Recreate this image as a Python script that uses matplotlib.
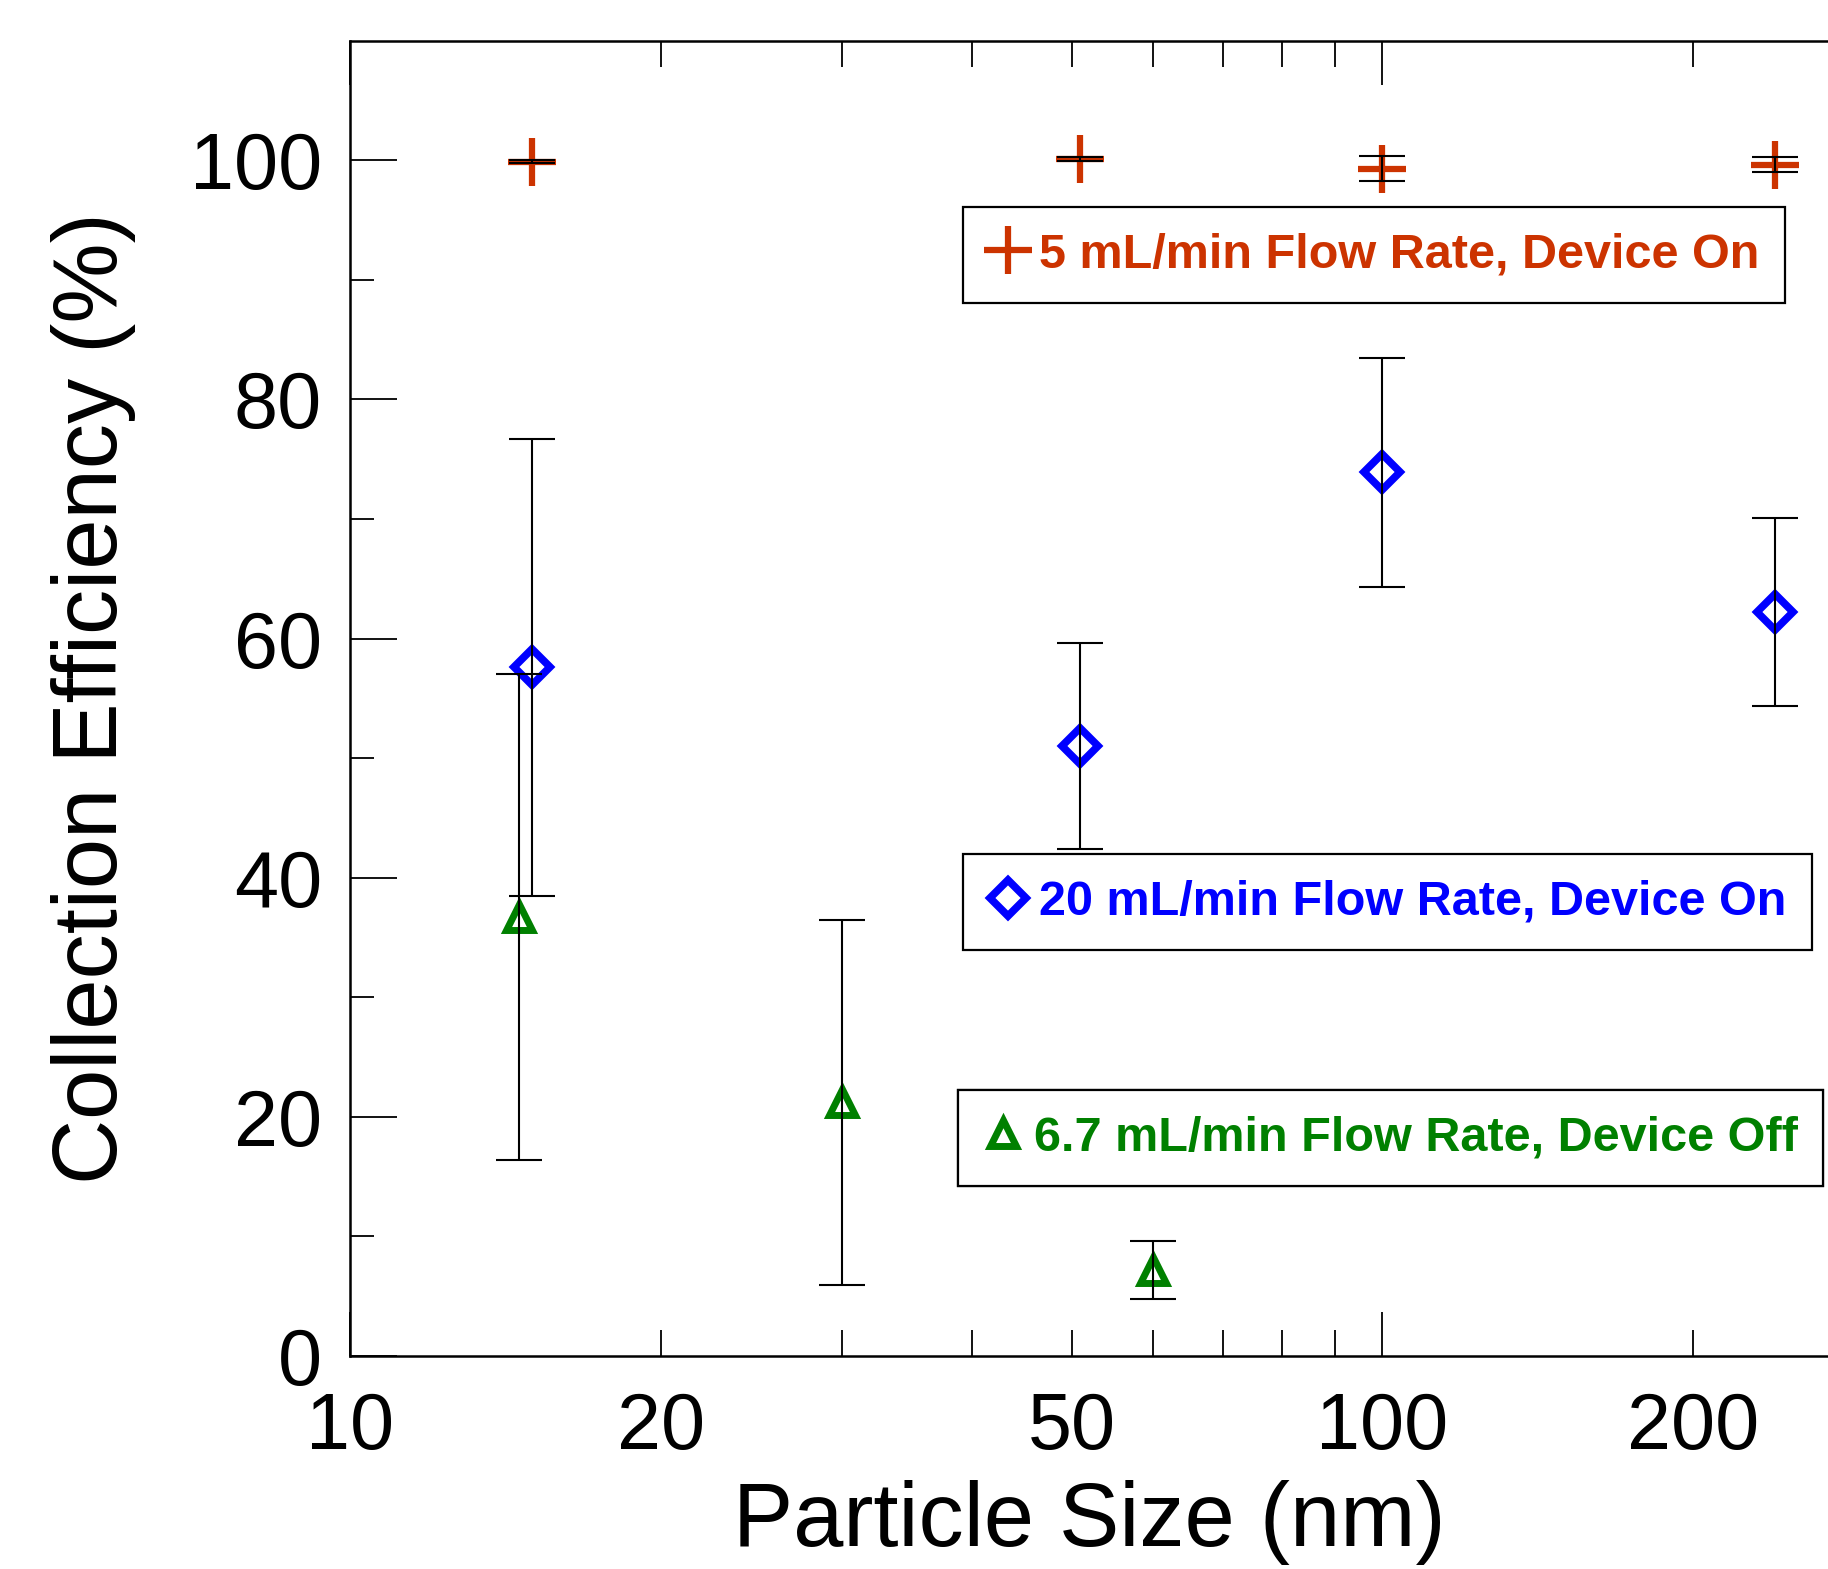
import numpy as np
import matplotlib.pyplot as plt
from matplotlib.lines import Line2D
from matplotlib.ticker import LogLocator, NullFormatter, FixedLocator

plt.rcParams['font.family'] = ['Liberation Sans', 'DejaVu Sans']

# 5 mL/min, device on
size_5 = [15, 51, 100, 240]
eff_5 = [99.9, 100.1, 99.3, 99.65]
err_5 = [0.15, 0.15, 1.05, 0.65]

# 20 mL/min, device on
size_20 = [15, 51, 100, 240]
eff_20 = [57.6, 51.0, 73.9, 62.2]
err_20 = [19.1, 8.6, 9.6, 7.85]

# 6.7 mL/min, device off
size_67 = [14.6, 30, 60]
eff_67 = [36.7, 21.2, 7.2]
err_67 = [20.3, 15.3, 2.4]

labels = ['5 mL/min Flow Rate, Device On',
          '20 mL/min Flow Rate, Device On',
          '6.7 mL/min Flow Rate, Device Off']
colors = ['#CC3300', '#0000FF', '#008000']

fig = plt.figure(figsize=(18.28, 15.69), dpi=100)
ax = fig.add_axes([0.1913, 0.1358, 0.8087, 0.8382])

series = [(size_5, eff_5, err_5, '+', 34, 4.5),
          (size_20, eff_20, err_20, 'D', 18, 5.5),
          (size_67, eff_67, err_67, '^', 19, 5.0)]

handles = []
for (x, y, e, m, ms, mew), c in zip(series, colors):
    ax.plot(x, y, linestyle='none', marker=m, markersize=ms, mew=mew,
            mec=c, mfc='none', zorder=2)
    ax.errorbar(x, y, yerr=e, fmt='none', ecolor='black', elinewidth=1.5,
                capsize=16.5, capthick=1.5, zorder=3)
    handles.append(Line2D([], [], linestyle='none', marker=m, markersize=ms,
                          mew=mew, mec=c, mfc='none'))

ax.set_xscale('log')
ax.set_xlim(10, 270)
ax.set_ylim(0, 110)

ax.xaxis.set_major_locator(FixedLocator([10, 100]))
ax.xaxis.set_minor_locator(LogLocator(base=10, subs=np.arange(2, 10)))
ax.xaxis.set_minor_formatter(NullFormatter())
ax.xaxis.set_major_formatter(NullFormatter())
ax.set_yticks([0, 20, 40, 60, 80, 100])
ax.set_yticks([10, 30, 50, 70, 90], minor=True)

# tick labels at 10, 20, 50, 100, 200 as in the original
for v in [10, 20, 50, 100, 200]:
    ax.text(v, -0.027, str(v), transform=ax.get_xaxis_transform(),
            ha='center', va='top', fontsize=57)

ax.tick_params(axis='both', which='both', direction='in', width=1.3,
               top=True, right=False, labelsize=57)
ax.tick_params(axis='x', which='major', length=32)
ax.tick_params(axis='x', which='minor', length=19)
ax.tick_params(axis='y', which='major', length=34, pad=20)
ax.tick_params(axis='y', which='minor', length=17)

for s in ['left', 'bottom', 'top']:
    ax.spines[s].set_linewidth(1.8)
ax.spines['right'].set_visible(False)

ax.set_xlabel('Particle Size (nm)', fontsize=65, labelpad=86)
ax.set_ylabel('Collection Efficiency (%)', fontsize=65, labelpad=39)

anchors = [(0.5268, 0.868), (0.5268, 0.4554), (0.524, 0.3053)]
for h, lab, c, pos in zip(handles, labels, colors, anchors):
    leg = ax.legend([h], [lab], loc='upper left', bbox_to_anchor=pos,
                    bbox_transform=fig.transFigure, frameon=True,
                    fancybox=False, edgecolor='black', framealpha=1,
                    labelcolor=c, handlelength=0.8, handletextpad=0.25,
                    borderpad=0.52, borderaxespad=0,
                    prop={'family': 'Liberation Sans', 'weight': 'bold',
                          'size': 35})
    leg.get_frame().set_linewidth(1.6)
    ax.add_artist(leg)

fig.savefig('out.png', dpi=100)
